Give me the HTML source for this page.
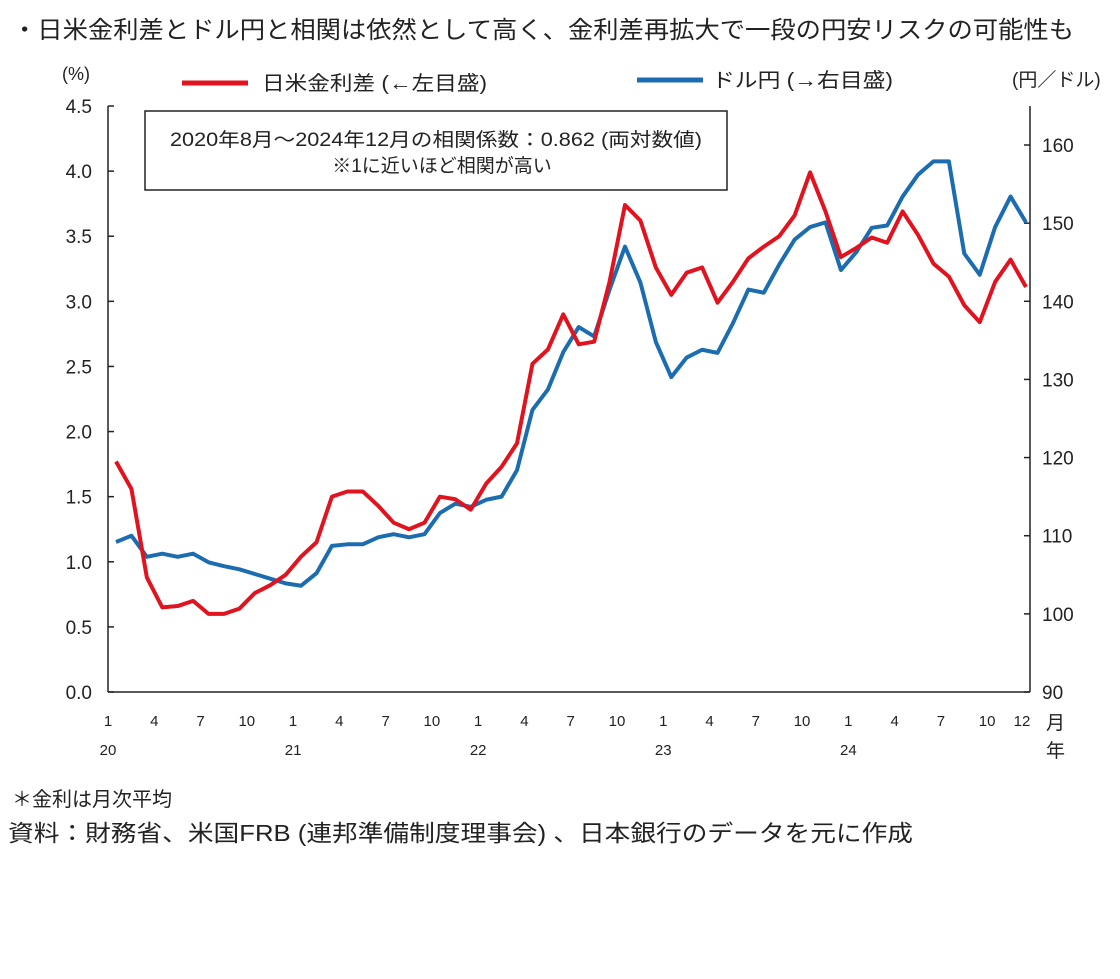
<!DOCTYPE html>
<html><head><meta charset="utf-8"><style>
body{margin:0;background:#fff;}
svg text{font-family:"Liberation Sans","Noto Sans CJK JP",sans-serif;fill:#222;}
</style></head><body>
<svg width="1120" height="974" viewBox="0 0 1120 974">
<text x="12" y="38" font-size="24" textLength="1062" lengthAdjust="spacingAndGlyphs">・日米金利差とドル円と相関は依然として高く、金利差再拡大で一段の円安リスクの可能性も</text>
<text x="62" y="80" font-size="18">(%)</text>
<text x="1012" y="86" font-size="19">(円／ドル)</text>
<g>
<line x1="182" y1="83" x2="248" y2="83" stroke="#e0131f" stroke-width="5"/>
<text x="262" y="90" font-size="20" textLength="225" lengthAdjust="spacingAndGlyphs">日米金利差 (←左目盛)</text>
<line x1="637" y1="80" x2="703" y2="80" stroke="#1c6db0" stroke-width="5"/>
<text x="712" y="87" font-size="20" textLength="181" lengthAdjust="spacingAndGlyphs">ドル円 (→右目盛)</text>
</g>
<g>
<rect x="145" y="111" width="582" height="79" fill="#fff" stroke="#222" stroke-width="1.5"/>
<text x="170" y="146" font-size="19" textLength="532" lengthAdjust="spacingAndGlyphs">2020年8月～2024年12月の相関係数：0.862 (両対数値)</text>
<text x="442" y="172" font-size="19" text-anchor="middle">※1に近いほど相関が高い</text>
</g>
<g id="axes"></g>
<g id="series"></g>
<text x="12" y="806" font-size="20">＊金利は月次平均</text>
<text x="8" y="841" font-size="23" textLength="905" lengthAdjust="spacingAndGlyphs">資料：財務省、米国FRB (連邦準備制度理事会) 、日本銀行のデータを元に作成</text>
</svg>
<script>
const months = ["2020-01","2024-12"];
const rateDiff = [1.77,1.56,0.88,0.65,0.66,0.70,0.60,0.60,0.64,0.76,0.82,0.90,1.04,1.15,1.50,1.54,1.54,1.43,1.30,1.25,1.30,1.50,1.48,1.40,1.60,1.73,1.91,2.52,2.63,2.90,2.67,2.69,3.15,3.74,3.62,3.26,3.05,3.22,3.26,2.99,3.15,3.33,3.42,3.50,3.66,3.99,3.69,3.34,3.41,3.49,3.45,3.69,3.51,3.29,3.19,2.97,2.84,3.15,3.32,3.11];
const usdJpy = [109.2,110.0,107.3,107.7,107.3,107.7,106.6,106.1,105.7,105.1,104.5,103.9,103.6,105.2,108.7,108.9,108.9,109.8,110.2,109.8,110.2,112.9,114.1,113.7,114.6,115.0,118.4,126.1,128.7,133.5,136.7,135.5,141.5,147.0,142.4,134.8,130.3,132.8,133.8,133.4,137.2,141.5,141.1,144.7,147.9,149.5,150.1,144.0,146.3,149.4,149.7,153.4,156.2,157.9,157.9,146.1,143.4,149.5,153.4,150.1];
const leftTicks = ["0.0","0.5","1.0","1.5","2.0","2.5","3.0","3.5","4.0","4.5"];
const rightTicks = [90,100,110,120,130,140,150,160];
const monthTicks = [1,4,7,10,1,4,7,10,1,4,7,10,1,4,7,10,1,4,7,10,12];
const monthTickIdx = [0,3,6,9,12,15,18,21,24,27,30,33,36,39,42,45,48,51,54,57,59];
const yearLabels = ["20","21","22","23","24"];

const NS="http://www.w3.org/2000/svg";
const X0=116,X1=1026,YB=692,YT=106;
const xS=i=>X0+(X1-X0)*i/(rateDiff.length-1);
const yL=v=>YB-(YB-YT)*v/4.5;
const yR=v=>YB-(v-90)*(YB-145)/70;
function mk(tag,attrs,parent,txt){const e=document.createElementNS(NS,tag);for(const k in attrs)e.setAttribute(k,attrs[k]);if(txt!==undefined)e.textContent=txt;parent.appendChild(e);return e;}
const ax=document.getElementById('axes');
let e;
e=mk('line',{x1:108,y1:YT,x2:108,y2:YB,stroke:'#222','stroke-width':1.5},ax);


e=mk('line',{x1:1030,y1:YT,x2:1030,y2:YB,stroke:'#222','stroke-width':1.5},ax);


e=mk('line',{x1:108,y1:YB,x2:1030,y2:YB,stroke:'#222','stroke-width':1.5},ax);


leftTicks.forEach(t=>{const y=yL(parseFloat(t));
 e=mk('line',{x1:108,y1:y,x2:114,y2:y,stroke:'#222','stroke-width':1.5},ax);
 
 
 e=mk('text',{x:92,y:y+7,'font-size':19,'text-anchor':'end'},ax,t);
 
 });
rightTicks.forEach(t=>{const y=yR(t);
 e=mk('line',{x1:1024,y1:y,x2:1030,y2:y,stroke:'#222','stroke-width':1.5},ax);
 
 
 e=mk('text',{x:1042,y:y+7,'font-size':19},ax,String(t));
 
 });
monthTicks.forEach((m,k)=>{const x=xS(monthTickIdx[k])-8+(k===monthTicks.length-1?4:0);
 e=mk('text',{x:x,y:726,'font-size':15,'text-anchor':'middle'},ax,String(m));
 
 });
yearLabels.forEach((yv,k)=>{const x=xS(k*12)-8;
 e=mk('text',{x:x,y:755,'font-size':15,'text-anchor':'middle'},ax,yv);
 
 });
e=mk('text',{x:1046,y:729,'font-size':19},ax,'月');


e=mk('text',{x:1046,y:757,'font-size':19},ax,'年');


const sg=document.getElementById('series');
e=mk('polyline',{points:usdJpy.map((v,i)=>xS(i)+','+yR(v)).join(' '),fill:'none',stroke:'#1c6db0','stroke-width':4,'stroke-linejoin':'round'},sg);


e=mk('polyline',{points:rateDiff.map((v,i)=>xS(i)+','+yL(v)).join(' '),fill:'none',stroke:'#e0131f','stroke-width':4,'stroke-linejoin':'round'},sg);


</script>
</body></html>
